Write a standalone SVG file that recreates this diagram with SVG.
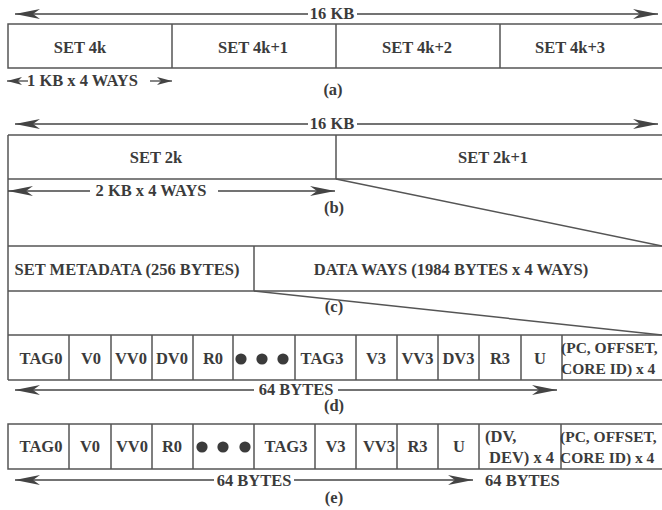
<svg xmlns="http://www.w3.org/2000/svg" width="662" height="510" viewBox="0 0 662 510">
<style>
  .t{font-family:"Liberation Serif","Times New Roman",serif;font-weight:bold;font-size:16.5px;fill:#3b3b3b;text-anchor:middle}
  .s{text-anchor:start}
  .n{font-size:15.5px}
  .b{stroke:#555;stroke-width:1.5;fill:none}
  .a{stroke:#444;stroke-width:1.3;fill:none}
  .big{marker-end:url(#ah)}
  .sm{marker-end:url(#as)}
  .dot{fill:#3b3b3b}
</style>
<defs>
  <marker id="ah" markerUnits="userSpaceOnUse" viewBox="0 0 26 12" markerWidth="26" markerHeight="12" refX="25" refY="6" orient="auto">
    <path d="M0,1 L25,6 L0,11 L7,6 z" fill="#444"/>
  </marker>
  <marker id="as" markerUnits="userSpaceOnUse" viewBox="0 0 16 10" markerWidth="16" markerHeight="10" refX="15" refY="5" orient="auto">
    <path d="M0,1 L15,5 L0,9 L4,5 z" fill="#444"/>
  </marker>
</defs>

<!-- Panel (a) -->
<g id="panel-a">
  <g id="a-set4k"><path class="b" d="M662,24 H8 V68 H662"/><text class="t" x="80" y="52.5">SET 4k</text></g>
  <g id="a-set4k1"><path class="b" d="M172,24 V68"/><text class="t" x="253" y="52.5">SET 4k+1</text></g>
  <g id="a-set4k2"><path class="b" d="M336,24 V68"/><text class="t" x="417" y="52.5">SET 4k+2</text></g>
  <g id="a-set4k3"><path class="b" d="M500,24 V68"/><text class="t" x="570" y="52.5">SET 4k+3</text></g>
  <text class="t" x="332" y="19">16 KB</text>
  <text class="t s" x="27" y="86">1 KB x 4 WAYS</text>
  <text class="t" x="333" y="95">(a)</text>
</g>

<!-- Panel (b) -->
<g id="panel-b">
  <g id="b-set2k"><path class="b" d="M662,135 H8 M8,179 H662 M336,135 V179"/><text class="t" x="156" y="163">SET 2k</text></g>
  <g id="b-set2k1"><text class="t" x="493" y="163">SET 2k+1</text></g>
  <text class="t" x="332" y="129">16 KB</text>
  <text class="t" x="151" y="196">2 KB x 4 WAYS</text>
  <text class="t" x="334" y="213">(b)</text>
</g>

<!-- Panel (c) -->
<g id="panel-c">
  <g id="c-meta"><path class="b" d="M8,246 H662 M8,291 H662 M254,246 V291"/><text class="t" x="127" y="275">SET METADATA (256 BYTES)</text></g>
  <g id="c-data"><text class="t" x="451" y="275">DATA WAYS (1984 BYTES x 4 WAYS)</text></g>
  <text class="t" x="334" y="312">(c)</text>
</g>

<!-- long left border for b/c/d -->
<path class="b" d="M8,135 V380"/>

<!-- Panel (d) -->
<g id="panel-d">
  <path class="b" d="M8,335 H662 M8,380 H662"/>
  <g id="d-tag0"><text class="t" x="41" y="364">TAG0</text></g>
  <g id="d-v0"><path class="b" d="M69,335 V380"/><text class="t" x="91" y="364">V0</text></g>
  <g id="d-vv0"><path class="b" d="M111,335 V380"/><text class="t" x="131" y="364">VV0</text></g>
  <g id="d-dv0"><path class="b" d="M152,335 V380"/><text class="t" x="172" y="364">DV0</text></g>
  <g id="d-r0"><path class="b" d="M193,335 V380"/><text class="t" x="213" y="364">R0</text></g>
  <g id="d-dots"><path class="b" d="M233,335 V380"/><circle class="dot" cx="241" cy="359" r="5.6"/><circle class="dot" cx="262" cy="359" r="5.6"/><circle class="dot" cx="283" cy="359" r="5.6"/></g>
  <g id="d-tag3"><path class="b" d="M295,335 V380"/><text class="t" x="322" y="364">TAG3</text></g>
  <g id="d-v3"><path class="b" d="M356,335 V380"/><text class="t" x="376" y="364">V3</text></g>
  <g id="d-vv3"><path class="b" d="M397,335 V380"/><text class="t" x="417.5" y="364">VV3</text></g>
  <g id="d-dv3"><path class="b" d="M438,335 V380"/><text class="t" x="458.5" y="364">DV3</text></g>
  <g id="d-r3"><path class="b" d="M479,335 V380"/><text class="t" x="500" y="364">R3</text></g>
  <g id="d-u"><path class="b" d="M521,335 V380"/><text class="t" x="540" y="364">U</text></g>
  <g id="d-pc"><path class="b" d="M562,335 V380"/><text class="t s n" x="561" y="353">(PC, OFFSET,</text><text class="t s n" x="561" y="374">CORE ID) x 4</text></g>
  <text class="t" x="296" y="395">64 BYTES</text>
  <text class="t" x="334" y="411">(d)</text>
</g>

<!-- Panel (e) -->
<g id="panel-e">
  <path class="b" d="M662,424 H8 V469 H662"/>
  <g id="e-tag0"><text class="t" x="41" y="452">TAG0</text></g>
  <g id="e-v0"><path class="b" d="M69,424 V469"/><text class="t" x="90" y="452">V0</text></g>
  <g id="e-vv0"><path class="b" d="M111,424 V469"/><text class="t" x="132" y="452">VV0</text></g>
  <g id="e-r0"><path class="b" d="M152,424 V469"/><text class="t" x="172" y="452">R0</text></g>
  <g id="e-dots"><path class="b" d="M193,424 V469"/><circle class="dot" cx="202" cy="447" r="5.6"/><circle class="dot" cx="223" cy="447" r="5.6"/><circle class="dot" cx="245" cy="447" r="5.6"/></g>
  <g id="e-tag3"><path class="b" d="M254,424 V469"/><text class="t" x="286" y="452">TAG3</text></g>
  <g id="e-v3"><path class="b" d="M315,424 V469"/><text class="t" x="335.5" y="452">V3</text></g>
  <g id="e-vv3"><path class="b" d="M356,424 V469"/><text class="t" x="379" y="452">VV3</text></g>
  <g id="e-r3"><path class="b" d="M397,424 V469"/><text class="t" x="417.5" y="452">R3</text></g>
  <g id="e-u"><path class="b" d="M438,424 V469"/><text class="t" x="459" y="452">U</text></g>
  <g id="e-dv"><path class="b" d="M479,424 V469"/><text class="t s" x="485" y="442">(DV,</text><text class="t s" x="489" y="463">DEV) x 4</text></g>
  <g id="e-pc"><path class="b" d="M561,424 V469"/><text class="t s n" x="560" y="442">(PC, OFFSET,</text><text class="t s n" x="560" y="463">CORE ID) x 4</text></g>
  <text class="t" x="254" y="486">64 BYTES</text>
  <text class="t s" x="485" y="486">64 BYTES</text>
  <text class="t" x="334" y="503">(e)</text>
</g>

<!-- Connectors -->
<g id="connectors">
  <line class="a big" x1="308" y1="14" x2="15" y2="14"/>
  <line class="a big" x1="357" y1="14" x2="658" y2="14"/>
  <line class="a sm" x1="28" y1="81" x2="7" y2="81"/>
  <line class="a sm" x1="150" y1="81" x2="172" y2="81"/>
  <line class="a big" x1="308" y1="124" x2="15" y2="124"/>
  <line class="a big" x1="357" y1="124" x2="658" y2="124"/>
  <line class="a big" x1="90" y1="191" x2="8" y2="191"/>
  <line class="a big" x1="218" y1="191" x2="335" y2="191"/>
  <line class="b" x1="336" y1="179" x2="662" y2="246"/>
  <line class="b" x1="254" y1="291" x2="662" y2="335"/>
  <line class="a big" x1="254" y1="390" x2="15" y2="390"/>
  <line class="a big" x1="338" y1="390" x2="557" y2="390"/>
  <line class="a big" x1="214" y1="480" x2="15" y2="480"/>
  <line class="a big" x1="294" y1="480" x2="473" y2="480"/>
</g>
</svg>
